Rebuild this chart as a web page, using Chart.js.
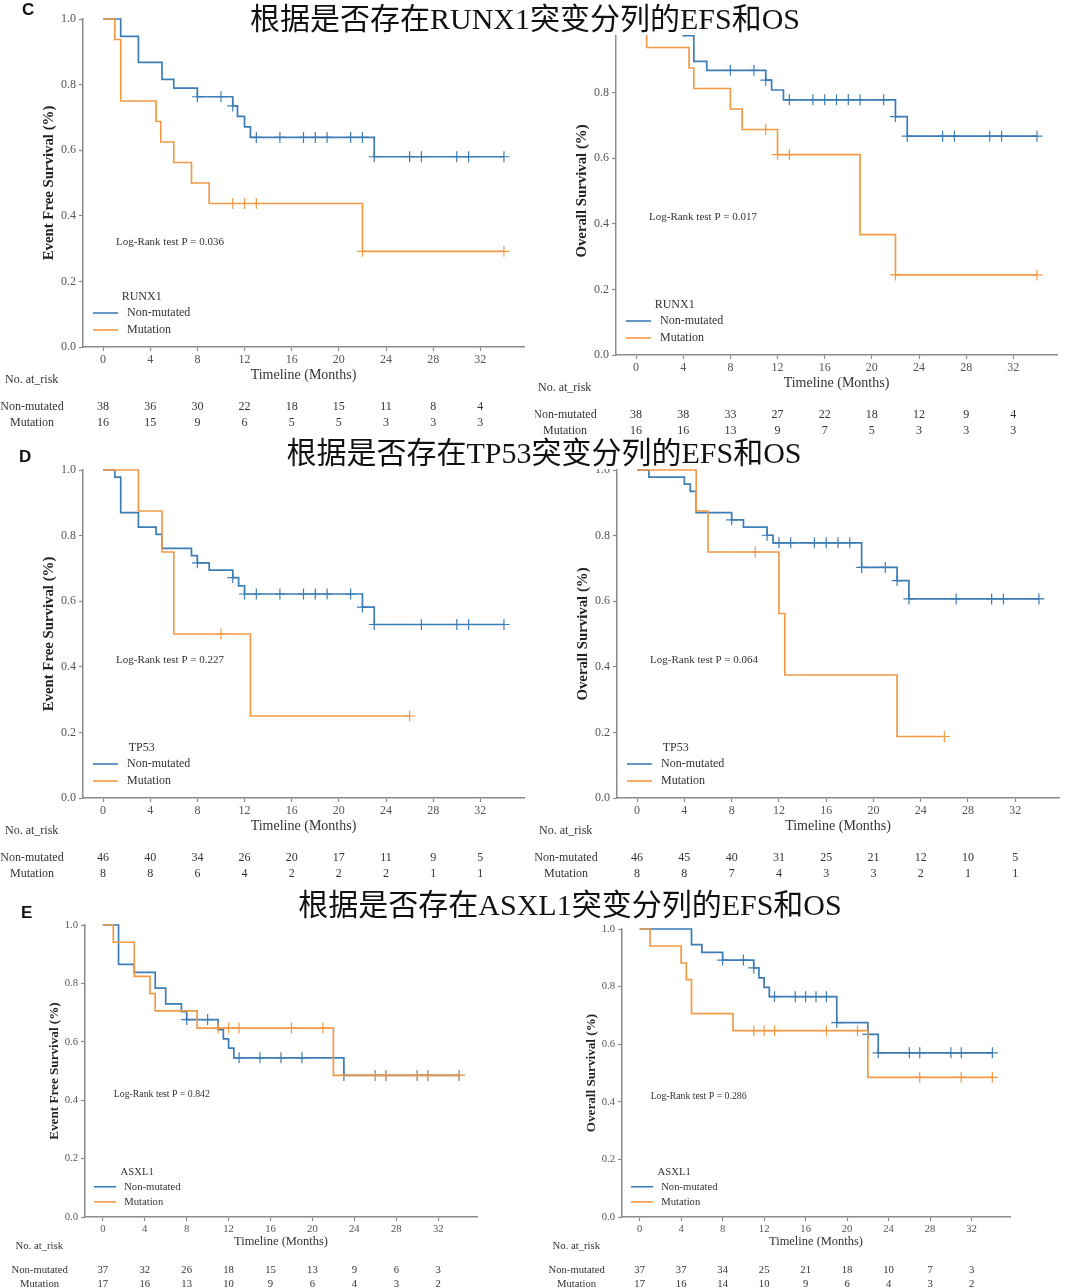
<!DOCTYPE html>
<html>
<head>
<meta charset="utf-8">
<script src="https://cdn.jsdelivr.net/npm/chart.js@4.4.1/dist/chart.umd.min.js"></script>
<style>
  body { margin: 0; background: #fff; }
  #page { position: relative; width: 1080px; height: 1288px; overflow: hidden; background: #fff; }
  .panel { position: absolute; }
  .titulo {
    position: absolute; z-index: 5; background: #fff; color: #111;
    font-family: "Liberation Serif", "Noto Sans CJK SC", serif;
    font-size: 30px; line-height: 32px; padding: 0 4px; white-space: nowrap;
    transform: translate(-50%, -50%);
  }
  .letra {
    position: absolute; z-index: 5; font-family: "Liberation Sans", Arial, sans-serif;
    font-weight: bold; font-size: 17px; color: #111;
  }
</style>
</head>
<body>
<div id="page">
  <div class="titulo" style="left:525px; top:19px;">根据是否存在RUNX1突变分列的EFS和OS</div>
  <div class="titulo" style="left:544px; top:453px;">根据是否存在TP53突变分列的EFS和OS</div>
  <div class="titulo" style="left:570px; top:905px;">根据是否存在ASXL1突变分列的EFS和OS</div>
  <div class="letra" style="left:22px; top:0px;">C</div>
  <div class="letra" style="left:19px; top:447px;">D</div>
  <div class="letra" style="left:21px; top:903px;">E</div>
</div>
<script>
// Ejes comunes
const timeTicks = [0, 4, 8, 12, 16, 20, 24, 28, 32];
const survTicks = [0, 0.2, 0.4, 0.6, 0.8, 1.0];

// RUNX1 - EFS
const runx1EfsNon = [[0,1],[1.5,0.947],[3,0.868],[5,0.816],[6,0.789],[8,0.763],[11,0.735],[11.4,0.703],[12,0.671],[12.5,0.639],[23,0.580],[34,0.580]];
const runx1EfsNonCens = [8,10,11,13,15,17,18,19,21,22,23,26,27,30,31,34];
const runx1EfsMut = [[0,1],[1,0.9375],[1.5,0.75],[4.5,0.6875],[4.9,0.625],[6,0.5625],[7.5,0.5],[9,0.4375],[22,0.2917],[34,0.2917]];
const runx1EfsMutCens = [11,12,13,22,34];
const runx1EfsRiskNon = [38,36,30,22,18,15,11,8,4];
const runx1EfsRiskMut = [16,15,9,6,5,5,3,3,3];

// RUNX1 - OS
const runx1OsNon = [[0,1],[4,0.974],[4.9,0.895],[6,0.868],[11,0.838],[11.5,0.808],[12.5,0.778],[22,0.727],[23,0.667],[34,0.667]];
const runx1OsNonCens = [8,10,11,13,15,16,17,18,19,21,22,23,26,27,30,31,34];
const runx1OsMut = [[0,1],[0.9,0.9375],[4.5,0.875],[4.9,0.8125],[8,0.75],[9,0.6875],[12,0.611],[19,0.367],[22,0.244],[34,0.244]];
const runx1OsMutCens = [11,12,13,22,34];
const runx1OsRiskNon = [38,38,33,27,22,18,12,9,4];
const runx1OsRiskMut = [16,16,13,9,7,5,3,3,3];

// TP53 - EFS
const tp53EfsNon = [[0,1],[1,0.978],[1.5,0.870],[3,0.826],[4.5,0.804],[5,0.761],[7.5,0.739],[8,0.717],[9,0.695],[11,0.672],[11.5,0.647],[12,0.622],[22,0.582],[23,0.529],[34,0.529]];
const tp53EfsNonCens = [8,11,12,13,15,17,18,19,21,22,23,27,30,31,34];
const tp53EfsMut = [[0,1],[3,0.875],[5,0.75],[6,0.5],[12.5,0.25],[26,0.25]];
const tp53EfsMutCens = [10,26];
const tp53EfsRiskNon = [46,40,34,26,20,17,11,9,5];
const tp53EfsRiskMut = [8,8,6,4,2,2,2,1,1];

// TP53 - OS
const tp53OsNon = [[0,1],[1,0.978],[4,0.957],[4.5,0.935],[5,0.870],[8,0.848],[9,0.826],[11,0.801],[11.5,0.778],[19,0.703],[22,0.663],[23,0.607],[34,0.607]];
const tp53OsNonCens = [8,11,12,13,15,16,17,18,19,21,22,23,27,30,31,34];
const tp53OsMut = [[0,1],[5,0.875],[6,0.75],[12,0.5625],[12.5,0.375],[22,0.1875],[26,0.1875]];
const tp53OsMutCens = [10,26];
const tp53OsRiskNon = [46,45,40,31,25,21,12,10,5];
const tp53OsRiskMut = [8,8,7,4,3,3,2,1,1];

// ASXL1 - EFS
const asxl1EfsNon = [[0,1],[1.5,0.865],[3,0.838],[5,0.784],[6,0.730],[7.5,0.703],[8,0.676],[11,0.642],[11.5,0.610],[12,0.578],[12.5,0.545],[23,0.485],[34,0.485]];
const asxl1EfsNonCens = [8,10,13,15,17,19,23,26,27,30,31,34];
const asxl1EfsMut = [[0,1],[1,0.941],[3,0.824],[4.5,0.765],[5,0.706],[9,0.647],[22,0.485],[34,0.485]];
const asxl1EfsMutCens = [11,12,13,18,21,26,27,30,31,34];
const asxl1EfsRiskNon = [37,32,26,18,15,13,9,6,3];
const asxl1EfsRiskMut = [17,16,13,10,9,6,4,3,2];

// ASXL1 - OS
const asxl1OsNon = [[0,1],[5,0.946],[6,0.919],[8,0.892],[11,0.865],[11.5,0.830],[12,0.797],[12.5,0.765],[19,0.675],[22,0.634],[23,0.570],[34,0.570]];
const asxl1OsNonCens = [8,10,11,13,15,16,17,18,19,22,23,26,27,30,31,34];
const asxl1OsMut = [[0,1],[1,0.941],[4,0.882],[4.5,0.824],[5,0.706],[9,0.647],[22,0.485],[34,0.485]];
const asxl1OsMutCens = [11,12,13,18,21,27,31,34];
const asxl1OsRiskNon = [37,37,34,25,21,18,10,7,3];
const asxl1OsRiskMut = [17,16,14,10,9,6,4,3,2];

// Estilos
const azul = '#3d7db6';
const naranja = '#f29a45';
const serif = '"Liberation Serif", "Times New Roman", serif';
const texto = '#333';

// Paneles: caja del canvas y zona del gráfico en coordenadas de página
const paneles = [
  { box: [0, 0, 540, 440], area: [83, 19, 524, 347], k: 1, yTitle: 'Event Free Survival (%)', gene: 'RUNX1', p: '0.036', pAt: [1.1, 0.32],
    non: runx1EfsNon, nonCens: runx1EfsNonCens, mut: runx1EfsMut, mutCens: runx1EfsMutCens, riskNon: runx1EfsRiskNon, riskMut: runx1EfsRiskMut },
  { box: [535, 0, 545, 440], area: [616, 27, 1057, 355], k: 1, yTitle: 'Overall Survival (%)', gene: 'RUNX1', p: '0.017', pAt: [1.1, 0.42],
    non: runx1OsNon, nonCens: runx1OsNonCens, mut: runx1OsMut, mutCens: runx1OsMutCens, riskNon: runx1OsRiskNon, riskMut: runx1OsRiskMut },
  { box: [0, 440, 540, 445], area: [83, 470, 524, 798], k: 1, yTitle: 'Event Free Survival (%)', gene: 'TP53', p: '0.227', pAt: [1.1, 0.42],
    non: tp53EfsNon, nonCens: tp53EfsNonCens, mut: tp53EfsMut, mutCens: tp53EfsMutCens, riskNon: tp53EfsRiskNon, riskMut: tp53EfsRiskMut },
  { box: [535, 440, 545, 445], area: [617, 470, 1059, 798], k: 1, yTitle: 'Overall Survival (%)', gene: 'TP53', p: '0.064', pAt: [1.1, 0.42],
    non: tp53OsNon, nonCens: tp53OsNonCens, mut: tp53OsMut, mutCens: tp53OsMutCens, riskNon: tp53OsRiskNon, riskMut: tp53OsRiskMut },
  { box: [0, 885, 540, 403], area: [85, 925, 477, 1217], k: 0.89, yTitle: 'Event Free Survival (%)', gene: 'ASXL1', p: '0.842', pAt: [1.05, 0.42],
    non: asxl1EfsNon, nonCens: asxl1EfsNonCens, mut: asxl1EfsMut, mutCens: asxl1EfsMutCens, riskNon: asxl1EfsRiskNon, riskMut: asxl1EfsRiskMut },
  { box: [540, 885, 540, 403], area: [622, 929, 1010, 1217], k: 0.89, yTitle: 'Overall Survival (%)', gene: 'ASXL1', p: '0.286', pAt: [1.06, 0.42],
    non: asxl1OsNon, nonCens: asxl1OsNonCens, mut: asxl1OsMut, mutCens: asxl1OsMutCens, riskNon: asxl1OsRiskNon, riskMut: asxl1OsRiskMut }
];

// Valor de la curva en un tiempo dado (para colocar las marcas de censura)
function survAt(pts, t) {
  let s = pts[0][1];
  for (const [ti, si] of pts) { if (ti <= t) s = si; }
  return s;
}

// Plugin: títulos de ejes, leyenda, texto del test y tabla de riesgo
const kmExtras = {
  id: 'kmExtras',
  afterDraw(chart, args, o) {
    const { ctx, chartArea: a, scales: { x, y } } = chart;
    const k = o.k;
    ctx.save();
    ctx.fillStyle = texto;

    // título eje Y
    ctx.save();
    ctx.fillStyle = '#222';
    ctx.font = `bold ${14.8 * k}px ${serif}`;
    ctx.translate(a.left - 34 * k, (a.top + a.bottom) / 2);
    ctx.rotate(-Math.PI / 2);
    ctx.textAlign = 'center';
    ctx.textBaseline = 'middle';
    ctx.fillText(o.yTitle, 0, 0);
    ctx.restore();

    // título eje X
    ctx.font = `${14 * k}px ${serif}`;
    ctx.textAlign = 'center';
    ctx.textBaseline = 'middle';
    ctx.fillText('Timeline (Months)', (a.left + a.right) / 2, a.bottom + 28 * k);

    // texto Log-Rank
    ctx.font = `${11 * k}px ${serif}`;
    ctx.textAlign = 'left';
    ctx.fillText('Log-Rank test P = ' + o.p, x.getPixelForValue(o.pAt[0]), y.getPixelForValue(o.pAt[1]));

    // leyenda
    ctx.font = `${12 * k}px ${serif}`;
    const x0 = a.left + 10 * k, x1 = a.left + 35 * k, xt = a.left + 44 * k;
    const wTxt = ctx.measureText('Non-mutated').width;
    ctx.textAlign = 'center';
    ctx.fillText(o.gene, (x0 + xt + wTxt) / 2, a.bottom - 50 * k);
    const filas = [['Non-mutated', azul, a.bottom - 34 * k], ['Mutation', naranja, a.bottom - 17 * k]];
    for (const [lab, col, yy] of filas) {
      ctx.strokeStyle = col;
      ctx.lineWidth = 1.6;
      ctx.beginPath();
      ctx.moveTo(x0, yy);
      ctx.lineTo(x1, yy);
      ctx.stroke();
      ctx.textAlign = 'left';
      ctx.fillText(lab, xt, yy);
    }

    // tabla de número en riesgo
    ctx.textAlign = 'left';
    ctx.fillText('No. at_risk', a.left - 78 * k, a.bottom + 33 * k);
    const labX = a.left - 51 * k;
    const rows = [['Non-mutated', o.riskNon, a.bottom + 60 * k], ['Mutation', o.riskMut, a.bottom + 76 * k]];
    for (const [lab, vals, yy] of rows) {
      ctx.textAlign = 'center';
      ctx.fillText(lab, labX, yy);
      vals.forEach((v, i) => ctx.fillText(String(v), x.getPixelForValue(timeTicks[i]), yy));
    }
    ctx.restore();
  }
};

function curva(pts, color, order) {
  return {
    data: pts.map(([t, s]) => ({ x: t, y: s })),
    borderColor: color, borderWidth: 1.7, stepped: 'before',
    pointRadius: 0, fill: false, order, clip: false
  };
}

function censuras(pts, cens, color, order) {
  return {
    data: cens.map(t => ({ x: t, y: survAt(pts, t) })),
    showLine: false, pointStyle: 'cross', pointRadius: 5.5,
    pointBorderColor: color, pointBackgroundColor: color, pointBorderWidth: 1.2,
    order, clip: false
  };
}

const page = document.getElementById('page');

paneles.forEach(p => {
  const [L, T, W, H] = p.box;
  const [al, at, ar, ab] = p.area;
  const div = document.createElement('div');
  div.className = 'panel';
  div.style.cssText = `left:${L}px; top:${T}px; width:${W}px; height:${H}px;`;
  const canvas = document.createElement('canvas');
  canvas.width = W;
  canvas.height = H;
  canvas.style.width = W + 'px';
  canvas.style.height = H + 'px';
  div.appendChild(canvas);
  page.appendChild(div);

  const eje = {
    grid: { drawOnChartArea: false, drawTicks: true, tickLength: 4, tickColor: '#8a8a8a', tickWidth: 1.2 },
    border: { display: true, color: '#8a8a8a', width: 1.5 }
  };

  new Chart(canvas.getContext('2d'), {
    type: 'line',
    data: {
      datasets: [
        curva(p.non, azul, 3),
        censuras(p.non, p.nonCens, azul, 3),
        curva(p.mut, naranja, 1),
        censuras(p.mut, p.mutCens, naranja, 1)
      ]
    },
    options: {
      responsive: false,
      animation: false,
      devicePixelRatio: 1,
      layout: { padding: { left: 0, top: at - T, right: L + W - ar, bottom: 0 } },
      plugins: {
        legend: { display: false },
        tooltip: { enabled: false },
        kmExtras: {
          k: p.k, yTitle: p.yTitle, gene: p.gene, p: p.p, pAt: p.pAt,
          riskNon: p.riskNon, riskMut: p.riskMut
        }
      },
      scales: {
        x: {
          type: 'linear', min: -1.7, max: 35.7,
          ...eje,
          ticks: { autoSkip: false, padding: 2, color: '#555', font: { family: serif, size: 12 * p.k } },
          afterBuildTicks: s => { s.ticks = timeTicks.map(v => ({ value: v })); },
          afterFit: s => { s.height = T + H - ab; }
        },
        y: {
          type: 'linear', min: 0, max: 1,
          ...eje,
          ticks: { padding: 3, color: '#555', font: { family: serif, size: 12 * p.k },
                   callback: v => v.toFixed(1) },
          afterBuildTicks: s => { s.ticks = survTicks.map(v => ({ value: v })); },
          afterFit: s => { s.width = al - L; }
        }
      }
    },
    plugins: [kmExtras]
  });
});
</script>
</body>
</html>
